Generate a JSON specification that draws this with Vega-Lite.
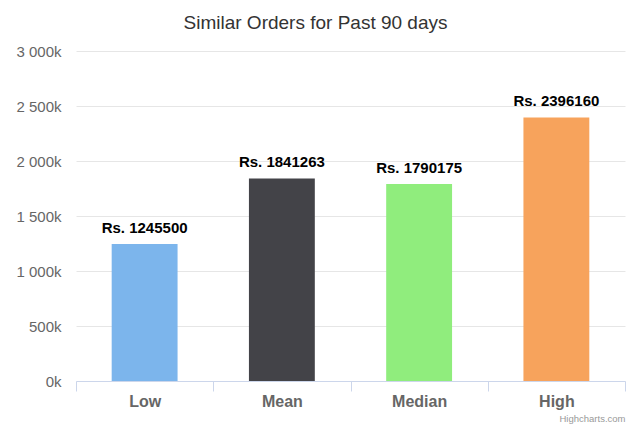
{
  "$schema": "https://vega.github.io/schema/vega-lite/v6.json",
  "width": 549,
  "height": 330,
  "autosize": {"type": "none"},
  "padding": {"left": 76, "top": 51, "right": 7, "bottom": 47},
  "background": "white",
  "title": {
    "text": "Similar Orders for Past 90 days",
    "fontSize": 19,
    "font": "Liberation Sans",
    "fontWeight": "normal",
    "color": "#333333",
    "anchor": "middle",
    "dx": -35,
    "baseline": "alphabetic",
    "offset": -4
  },
  "data": {
    "values": [
      {"category": "Low", "value": 1245500, "label": "Rs. 1245500"},
      {"category": "Mean", "value": 1841263, "label": "Rs. 1841263"},
      {"category": "Median", "value": 1790175, "label": "Rs. 1790175"},
      {"category": "High", "value": 2396160, "label": "Rs. 2396160"}
    ]
  },
  "encoding": {
    "x": {
      "field": "category",
      "type": "nominal",
      "sort": null,
      "scale": {"paddingInner": 0, "paddingOuter": 0},
      "axis": {
        "title": "Highcharts.com",
        "titleAnchor": "end",
        "titleFontSize": 9.5,
        "titleFontWeight": "normal",
        "titleColor": "#999999",
        "titleFont": "Liberation Sans",
        "titlePadding": 4,
        "labelAngle": 0,
        "labelFontSize": 16,
        "labelFontWeight": "bold",
        "labelColor": "#666666",
        "labelFont": "Liberation Sans",
        "labelPadding": 2,
        "tickBand": "extent",
        "tickSize": 10,
        "tickColor": "#ccd6eb",
        "domainColor": "#ccd6eb",
        "grid": false
      }
    },
    "y": {
      "field": "value",
      "type": "quantitative",
      "scale": {"domain": [0, 3000000], "nice": false},
      "axis": {
        "title": null,
        "values": [0, 500000, 1000000, 1500000, 2000000, 2500000, 3000000],
        "labelExpr": "replace(format(datum.value/1000, ','), ',', ' ') + 'k'",
        "labelFontSize": 15,
        "labelColor": "#666666",
        "labelFont": "Liberation Sans",
        "labelPadding": 15,
        "ticks": false,
        "domain": false,
        "gridColor": "#e6e6e6"
      }
    }
  },
  "layer": [
    {
      "mark": {"type": "bar", "width": {"band": 0.48}},
      "encoding": {
        "color": {
          "field": "category",
          "type": "nominal",
          "scale": {
            "domain": ["Low", "Mean", "Median", "High"],
            "range": ["#7cb5ec", "#434348", "#90ed7d", "#f7a35c"]
          },
          "legend": null
        }
      }
    },
    {
      "mark": {
        "type": "text",
        "baseline": "alphabetic",
        "dy": -11,
        "fontSize": 15,
        "fontWeight": "bold",
        "font": "Liberation Sans",
        "color": "#000000"
      },
      "encoding": {"text": {"field": "label"}}
    }
  ],
  "config": {"view": {"stroke": null}}
}
